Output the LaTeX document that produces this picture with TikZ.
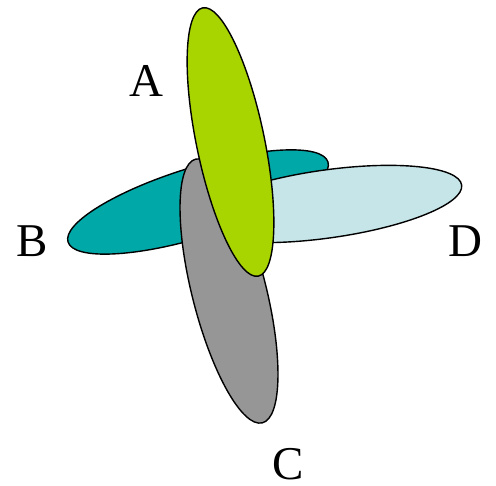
\documentclass[tikz,border=0pt]{standalone}
\usepackage{fontspec}
\setmainfont{Liberation Serif}
\definecolor{tealB}{RGB}{0,168,168}
\definecolor{cyanD}{RGB}{198,229,232}
\definecolor{grayC}{RGB}{150,150,150}
\definecolor{greenA}{RGB}{168,212,0}
\begin{document}
\begin{tikzpicture}[x=1pt,y=1pt,
  blob/.style={draw=black, line width=1.4pt},
  lab/.style={font=\fontsize{47}{47}\selectfont, inner sep=0pt}]
\useasboundingbox (0,0) rectangle (496,486);
% B
\draw[blob, fill=tealB, rotate around={17.1:(198,284)}] (198,284) ellipse [x radius=136pt, y radius=35pt];
% D
\draw[blob, fill=cyanD, rotate around={8:(327,282)}] (327,282) ellipse [x radius=136pt, y radius=34pt];
% C
\draw[blob, fill=grayC, rotate around={104.2:(229,195)}] (229,195) ellipse [x radius=136pt, y radius=37pt];
% A
\draw[blob, fill=greenA, rotate around={101.7:(230.5,344)}] (230.5,344) ellipse [x radius=137pt, y radius=34pt];
\node[lab] (la) at (146,405) {A};
\node[lab] (lb) at (32,245) {B};
\node[lab] (ld) at (465,245) {D};
\node[lab] (lc) at (288.5,22) {C};
\end{tikzpicture}
\end{document}
